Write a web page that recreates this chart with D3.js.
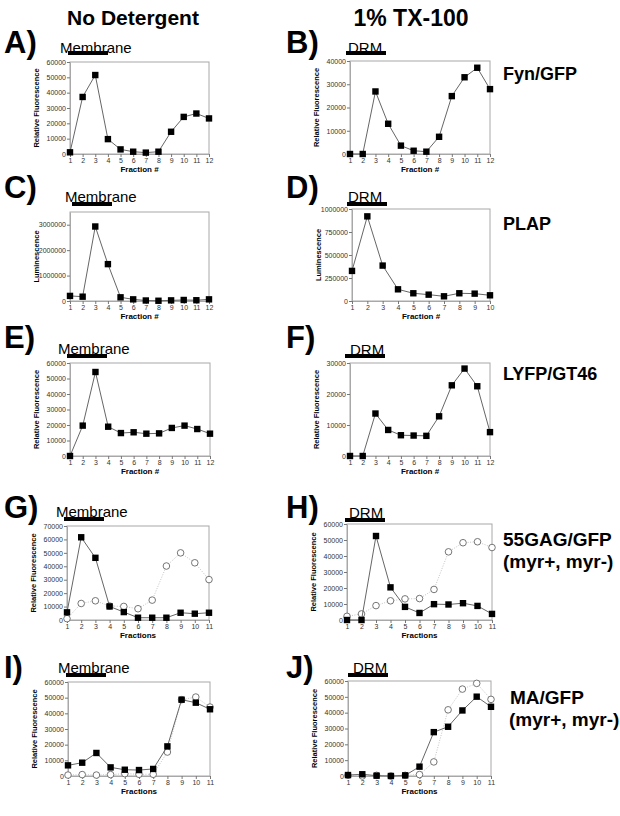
<!DOCTYPE html>
<html>
<head>
<meta charset="utf-8">
<title>Fractions</title>
<style>
body { margin: 0; background: #fff; }
svg text { font-family: "Liberation Sans", Arial, sans-serif; }
</style>
</head>
<body>
<script src="https://cdn.jsdelivr.net/npm/d3@7/dist/d3.min.js"></script>
<script>

var width  = 620;
var height = 816;

// fraction numbers (x tick labels)
var frac12 = [1, 2, 3, 4, 5, 6, 7, 8, 9, 10, 11, 12];
var frac11 = [1, 2, 3, 4, 5, 6, 7, 8, 9, 10, 11];
var frac10 = [1, 2, 3, 4, 5, 6, 7, 8, 9, 10];

// y tick labels
var ticks30k  = [0, 10000, 20000, 30000];
var ticks40k  = [0, 10000, 20000, 30000, 40000];
var ticks60k  = [0, 10000, 20000, 30000, 40000, 50000, 60000];
var ticks70k  = [0, 10000, 20000, 30000, 40000, 50000, 60000, 70000];
var ticks1M   = [0, 250000, 500000, 750000, 1000000];
var ticks3M   = [0, 1000000, 2000000, 3000000];

// values
var fynMem   = [1100, 37200, 51500, 9700, 3000, 1500, 900, 1500, 14500, 24200, 26400, 23200];
var fynDrm   = [0, 0, 26900, 13000, 3600, 1400, 1000, 7400, 24900, 33000, 37100, 27900];
var plapMem  = [200000, 170000, 2930000, 1450000, 145000, 65000, 20000, 10000, 25000, 40000, 30000, 65000];
var plapDrm  = [327000, 920000, 385000, 127000, 84000, 69000, 51000, 84000, 80000, 62000];
var lyfpMem  = [0, 19600, 54200, 18900, 14800, 15300, 14400, 14600, 18100, 19600, 17400, 14400];
var lyfpDrm  = [0, 0, 13700, 8400, 6700, 6600, 6500, 12800, 22800, 28200, 22500, 7700];
var gagMemPlus  = [5700, 61600, 46300, 10100, 5900, 1700, 1700, 1700, 5400, 4700, 5400];
var gagMemMinus = [1000, 12300, 14300, 10400, 10100, 8400, 14800, 40200, 50000, 42600, 30100];
var gagDrmPlus  = [0, 0, 52500, 20400, 8200, 4400, 9900, 9700, 10500, 8800, 3800];
var gagDrmMinus = [2300, 3800, 9000, 12000, 13200, 13400, 19100, 42600, 48300, 48900, 45300];
var maMemPlus   = [6800, 8500, 14700, 5500, 4000, 3800, 4500, 18900, 48700, 46800, 42600];
var maMemMinus  = [600, 900, 600, 900, 1500, 1100, 1100, 15300, 48700, 50400, 44000];
var maDrmPlus   = [600, 1100, 200, 0, 400, 5900, 27700, 31100, 41400, 50100, 43700];
var maDrmMinus  = [400, 0, 400, 0, 400, 900, 8900, 41800, 54900, 58500, 48400];

var svg = d3.select("body")
			.append("svg")
			.attr("width", width)
			.attr("height", height);

// column headers
svg.append("text").attr("x", 133).attr("y", 25).attr("text-anchor", "middle")
	.attr("font-size", 21).attr("font-weight", "bold").text("No Detergent");
svg.append("text").attr("x", 411).attr("y", 26).attr("text-anchor", "middle")
	.attr("font-size", 23).attr("font-weight", "bold").text("1% TX-100");

// panel layout
var panels = [
	{ letter: "A)", lx: 4,   ly: 53,  l: 70,  r: 209, t: 62,  b: 154, frac: frac12, max: 60000,   ticks: ticks60k, yt: "Relative Fluorescence", xt: "Fraction #", sq: fynMem,
	  tag: "Membrane", tx: 60,  ty: 53,  bx: 68,  by: 51 },
	{ letter: "B)", lx: 286, ly: 53,  l: 350, r: 490, t: 61,  b: 154, frac: frac12, max: 40000,   ticks: ticks40k, yt: "Relative Fluorescence", xt: "Fraction #", sq: fynDrm,
	  tag: "DRM", tx: 348, ty: 53,  bx: 346, by: 51 },
	{ letter: "C)", lx: 4,   ly: 198, l: 70,  r: 209, t: 212, b: 301, frac: frac12, max: 3500000, ticks: ticks3M,  yt: "Luminescence", xt: "Fraction #", sq: plapMem,
	  tag: "Membrane", tx: 65,  ty: 202, bx: 72,  by: 202 },
	{ letter: "D)", lx: 286, ly: 198, l: 352, r: 490, t: 209, b: 301, frac: frac10, max: 1000000, ticks: ticks1M,  yt: "Luminescence", xt: "Fraction #", sq: plapDrm,
	  tag: "DRM", tx: 348, ty: 202, bx: 347, by: 202 },
	{ letter: "E)", lx: 4,   ly: 348, l: 70,  r: 210, t: 363, b: 456, frac: frac12, max: 60000,   ticks: ticks60k, yt: "Relative Fluorescence", xt: "Fraction #", sq: lyfpMem,
	  tag: "Membrane", tx: 58,  ty: 354, bx: 67,  by: 354 },
	{ letter: "F)", lx: 286, ly: 348, l: 350, r: 490, t: 363, b: 456, frac: frac12, max: 30000,   ticks: ticks30k, yt: "Relative Fluorescence", xt: "Fraction #", sq: lyfpDrm,
	  tag: "DRM", tx: 350, ty: 355, bx: 345, by: 354 },
	{ letter: "G)", lx: 4,   ly: 518, l: 67,  r: 209, t: 526, b: 620, frac: frac11, max: 70000,   ticks: ticks70k, yt: "Relative Fluorescence", xt: "Fractions", sq: gagMemPlus, ci: gagMemMinus,
	  tag: "Membrane", tx: 56,  ty: 517, bx: 64,  by: 517 },
	{ letter: "H)", lx: 286, ly: 518, l: 347, r: 492, t: 524, b: 620, frac: frac11, max: 60000,   ticks: ticks60k, yt: "Relative Fluorescence", xt: "Fractions", sq: gagDrmPlus, ci: gagDrmMinus,
	  tag: "DRM", tx: 349, ty: 518, bx: 345, by: 518 },
	{ letter: "I)", lx: 4,   ly: 678, l: 68,  r: 210, t: 682, b: 776, frac: frac11, max: 60000,   ticks: ticks60k, yt: "Relative Fluorescence", xt: "Fractions", sq: maMemPlus, ci: maMemMinus,
	  tag: "Membrane", tx: 58,  ty: 673, bx: 66,  by: 673 },
	{ letter: "J)", lx: 286, ly: 678, l: 348, r: 491, t: 681, b: 776, frac: frac11, max: 60000,   ticks: ticks60k, yt: "Relative Fluorescence", xt: "Fractions", sq: maDrmPlus, ci: maDrmMinus,
	  tag: "DRM", tx: 353, ty: 673, bx: 348, by: 673 }
];

panels.forEach(function(p) {
	var g = svg.append("g");
	var x = d3.scaleLinear().domain([1, p.frac.length]).range([p.l, p.r]);
	var y = d3.scaleLinear().domain([0, p.max]).range([p.b, p.t]);

	// panel letter
	g.append("text").attr("x", p.lx).attr("y", p.ly)
		.attr("font-size", 31).attr("font-weight", "bold").text(p.letter);

	// Membrane / DRM tag with bar
	g.append("text").attr("x", p.tx).attr("y", p.ty)
		.attr("font-size", 15).text(p.tag);
	g.append("rect").attr("x", p.bx).attr("y", p.by)
		.attr("width", 40).attr("height", 4).attr("fill", "#000");

	// frame
	g.append("rect").attr("x", p.l).attr("y", p.t)
		.attr("width", p.r - p.l).attr("height", p.b - p.t)
		.attr("fill", "none").attr("stroke", "#a8a8a8").attr("stroke-width", 1);

	// axes
	var ya = g.append("g").attr("transform", "translate(" + p.l + ",0)")
		.call(d3.axisLeft(y).tickValues(p.ticks).tickFormat(d3.format("d"))
			.tickSize(3).tickPadding(1).tickSizeOuter(0));
	var xa = g.append("g").attr("transform", "translate(0," + p.b + ")")
		.call(d3.axisBottom(x).tickValues(p.frac).tickFormat(d3.format("d"))
			.tickSize(3).tickPadding(1).tickSizeOuter(0));
	[ya, xa].forEach(function(a) {
		a.select(".domain").attr("stroke", "#a8a8a8");
		a.selectAll(".tick line").attr("stroke", "#777");
		a.selectAll(".tick text").attr("font-size", 7).attr("fill", "#333")
			.attr("font-family", "\"Liberation Sans\", Arial, sans-serif");
	});

	// axis titles
	g.append("text")
		.attr("transform", "translate(" + (p.l - 31) + "," + ((p.t + p.b) / 2) + ") rotate(-90)")
		.attr("text-anchor", "middle").attr("font-size", 7.5).attr("font-weight", "bold")
		.text(p.yt);
	g.append("text").attr("x", (p.l + p.r) / 2).attr("y", p.b + 18)
		.attr("text-anchor", "middle").attr("font-size", 8).attr("font-weight", "bold")
		.text(p.xt);

	var line = d3.line()
		.x(function(d, i) { return x(p.frac[i]); })
		.y(function(d) { return y(d); });

	// myr- series: dotted light line, open circles
	if (p.ci) {
		g.append("path").attr("d", line(p.ci))
			.attr("fill", "none").attr("stroke", "#c4c4c4")
			.attr("stroke-width", 1).attr("stroke-dasharray", "1,1.5");
		g.selectAll(".ci").data(p.ci).enter().append("circle")
			.attr("cx", function(d, i) { return x(p.frac[i]); })
			.attr("cy", function(d) { return y(d); })
			.attr("r", 3.3)
			.attr("fill", "#fff").attr("stroke", "#666").attr("stroke-width", 0.9);
	}

	// main series: solid grey line, filled squares
	g.append("path").attr("d", line(p.sq))
		.attr("fill", "none").attr("stroke", "#666").attr("stroke-width", 1);
	g.selectAll(".sq").data(p.sq).enter().append("rect")
		.attr("x", function(d, i) { return x(p.frac[i]) - 3.2; })
		.attr("y", function(d) { return y(d) - 3.2; })
		.attr("width", 6.4).attr("height", 6.4)
		.attr("fill", "#000");
});

// construct names on the right
var names = [
	{ x: 503, y: 80,  s: 18, t: "Fyn/GFP" },
	{ x: 503, y: 230, s: 18, t: "PLAP" },
	{ x: 503, y: 380, s: 18, t: "LYFP/GT46" },
	{ x: 503, y: 546, s: 19, t: "55GAG/GFP" },
	{ x: 503, y: 568, s: 19, t: "(myr+, myr-)" },
	{ x: 510, y: 704, s: 19, t: "MA/GFP" },
	{ x: 509, y: 726, s: 19, t: "(myr+, myr-)" }
];
svg.selectAll(".name").data(names).enter().append("text")
	.attr("x", function(d) { return d.x; })
	.attr("y", function(d) { return d.y; })
	.attr("font-size", function(d) { return d.s; })
	.attr("font-weight", "bold")
	.text(function(d) { return d.t; });

</script>
</body>
</html>
